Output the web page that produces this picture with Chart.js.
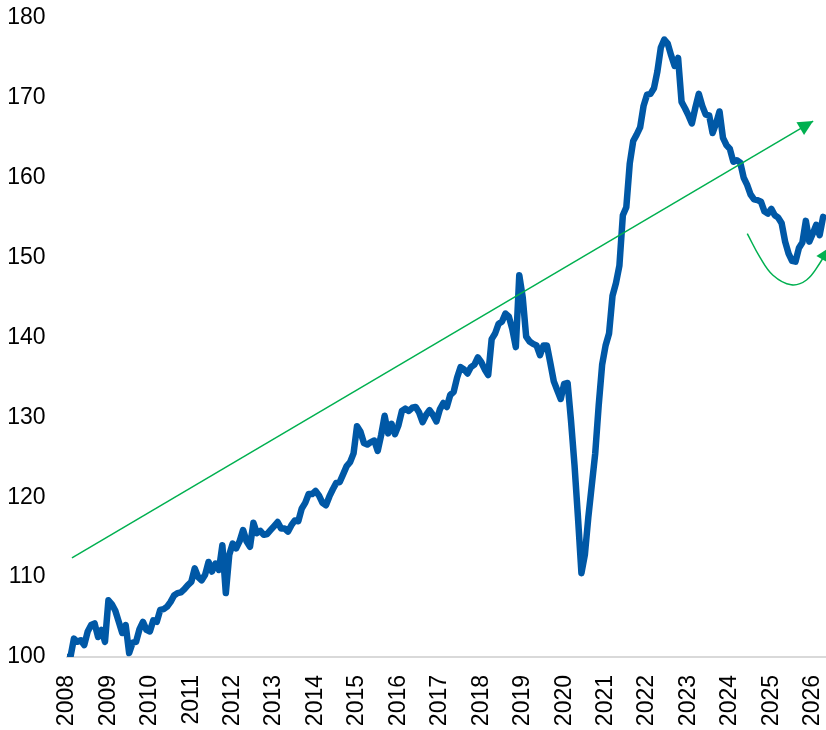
<!DOCTYPE html>
<html>
<head>
<meta charset="utf-8">
<script src="https://cdn.jsdelivr.net/npm/chart.js@4.4.1/dist/chart.umd.min.js"></script>
<style>
  html, body { margin: 0; padding: 0; background: #fff; }
  #wrap { width: 826px; height: 730px; position: relative; }
</style>
</head>
<body>
<div id="wrap"><canvas id="chart"></canvas></div>
<script>
  const BLUE = '#0058a6';
  const GREEN = '#00b050';

  // monthly index, Jan 2008 onwards
  const START_YEAR = 2008;
  const indexValues = [
    100.0, 100.0, 102.3, 101.9, 102.1, 101.5, 103.2, 104.0, 104.2, 102.5, 103.4, 101.9, // 2008
    107.1, 106.6, 105.8, 104.4, 103.0, 104.0, 100.5, 101.8, 101.9, 103.5, 104.4, 103.4, // 2009
    103.2, 104.6, 104.4, 105.9, 106.0, 106.3, 106.9, 107.7, 108.0, 108.1, 108.5, 109.0, // 2010
    109.4, 111.1, 110.0, 109.6, 110.3, 111.9, 110.7, 111.7, 110.9, 114.0, 108.0, 112.8, // 2011
    114.2, 113.6, 114.5, 115.9, 114.5, 113.8, 116.8, 115.5, 115.8, 115.3, 115.4, 115.9, // 2012
    116.4, 116.9, 116.1, 116.1, 115.7, 116.5, 117.1, 117.0, 118.6, 119.3, 120.4, 120.4, // 2013
    120.8, 120.2, 119.3, 119.0, 120.1, 121.0, 121.8, 121.9, 122.9, 123.9, 124.4, 125.5, // 2014
    128.9, 128.2, 126.8, 126.6, 126.9, 127.1, 125.8, 127.8, 130.2, 128.0, 129.2, 127.9, // 2015
    129.0, 130.8, 131.1, 130.8, 131.2, 131.3, 130.6, 129.4, 130.3, 130.9, 130.3, 129.5, // 2016
    131.0, 131.8, 131.3, 132.8, 133.2, 135.0, 136.3, 136.0, 135.5, 136.3, 136.6, 137.5, // 2017
    136.9, 136.0, 135.3, 139.8, 140.5, 141.7, 142.0, 143.0, 142.6, 141.0, 138.8, 147.8, // 2018
    145.0, 140.1, 139.5, 139.2, 139.0, 137.8, 139.0, 139.0, 136.8, 134.5, 133.4, 132.3, // 2019
    134.2, 134.3, 129.5, 124.0, 117.5, 110.5, 112.8, 117.5, 121.5, 125.5, 131.5, 136.6, // 2020
    139.0, 140.5, 145.2, 146.8, 149.0, 155.3, 156.3, 161.8, 164.6, 165.4, 166.3, 169.0, // 2021
    170.4, 170.5, 171.2, 173.3, 176.3, 177.3, 176.8, 175.3, 174.0, 175.0, 169.5, 168.7, // 2022
    167.8, 166.8, 168.8, 170.5, 169.0, 167.9, 167.8, 165.6, 166.8, 168.3, 165.0, 164.1, // 2023
    163.6, 162.0, 162.2, 161.9, 160.0, 159.1, 157.9, 157.3, 157.2, 157.0, 155.8, 155.5, // 2024
    156.1, 155.3, 155.0, 154.3, 152.0, 150.5, 149.6, 149.5, 151.2, 151.9, 154.6, 152.0, // 2025
    153.0, 154.1, 152.8, 155.1                                                          // 2026
  ];

  const yearTicks = [2008, 2009, 2010, 2011, 2012, 2013, 2014, 2015, 2016, 2017,
                     2018, 2019, 2020, 2021, 2022, 2023, 2024, 2025, 2026];

  // long-run trend arrow
  const trendX = [2008.12, 2026.01];
  const trendY = [112.4, 167.1];

  // curved "recovery" arrow
  const curveX = [2024.42, 2024.72, 2025.04, 2025.48, 2025.85, 2026.17, 2026.38];
  const curveY = [153.0, 150.1, 147.8, 146.6, 147.2, 149.3, 151.2];

  const toPoints = (xs, ys) => xs.map((x, i) => ({ x, y: ys[i] }));
  const indexPoints = indexValues.map((v, i) => ({ x: START_YEAR + i / 12, y: v }));

  // draws a filled triangle at the end of datasets flagged with arrowHead
  const arrowPlugin = {
    id: 'arrowHeads',
    afterDatasetsDraw(chart) {
      const ctx = chart.ctx;
      chart.data.datasets.forEach((ds, di) => {
        if (!ds.arrowHead) return;
        const pts = chart.getDatasetMeta(di).data;
        if (pts.length < 2) return;
        const a = pts[pts.length - 2];
        const b = pts[pts.length - 1];
        const ang = Math.atan2(b.y - a.y, b.x - a.x);
        const len = ds.arrowHead.length;
        const half = ds.arrowHead.width / 2;
        ctx.save();
        ctx.fillStyle = ds.borderColor;
        ctx.translate(b.x, b.y);
        ctx.rotate(ang);
        ctx.beginPath();
        ctx.moveTo(0, 0);
        ctx.lineTo(-len, -half);
        ctx.lineTo(-len, half);
        ctx.closePath();
        ctx.fill();
        ctx.restore();
      });
    },
  };

  const tickFont = { family: 'Liberation Sans, Arial', size: 23 };

  new Chart(document.getElementById('chart').getContext('2d'), {
    type: 'line',
    data: {
      datasets: [
        {
          data: toPoints(trendX, trendY),
          borderColor: GREEN,
          borderWidth: 1.5,
          pointRadius: 0,
          arrowHead: { length: 15, width: 15 },
        },
        {
          data: toPoints(curveX, curveY),
          borderColor: GREEN,
          borderWidth: 1.5,
          pointRadius: 0,
          tension: 0.4,
          arrowHead: { length: 13, width: 13 },
        },
        {
          data: indexPoints,
          borderColor: BLUE,
          borderWidth: 6.5,
          borderJoinStyle: 'round',
          borderCapStyle: 'round',
          pointRadius: 0,
          tension: 0,
        },
      ],
    },
    options: {
      responsive: true,
      maintainAspectRatio: false,
      animation: false,
      layout: { padding: { left: 7, right: 0, top: 18, bottom: 4 } },
      plugins: {
        legend: { display: false },
        tooltip: { enabled: false },
      },
      scales: {
        x: {
          type: 'linear',
          min: 2008,
          max: 2026.32,
          grid: { display: false, drawTicks: false },
          border: { display: true, color: '#d9d9d9', width: 2 },
          afterBuildTicks: axis => { axis.ticks = yearTicks.map(v => ({ value: v })); },
          afterFit: axis => {
            axis.paddingLeft = 0;
            axis.paddingRight = 0;
            axis.height = 69;
          },
          ticks: {
            color: '#000',
            font: tickFont,
            padding: 18,
            minRotation: 90,
            maxRotation: 90,
            callback: v => String(v),
          },
        },
        y: {
          min: 100,
          max: 180,
          grid: { display: false, drawTicks: false },
          border: { display: false },
          afterFit: axis => {
            axis.paddingTop = 0;
            axis.paddingBottom = 0;
            axis.width = 60;
          },
          ticks: {
            stepSize: 10,
            color: '#000',
            font: tickFont,
            padding: 21.5,
          },
        },
      },
    },
    plugins: [arrowPlugin],
  });
</script>
</body>
</html>
